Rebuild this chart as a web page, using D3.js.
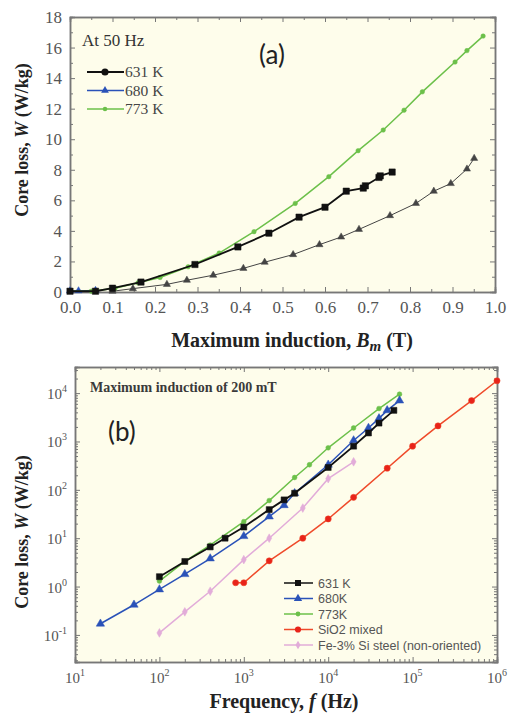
<!DOCTYPE html>
<html lang="en">
<head>
<meta charset="UTF-8">
<script src="https://d3js.org/d3.v7.min.js"></script>
<title>Core loss</title>
<style>body{margin:0;background:#fff}</style>
</head>
<body>
<script>
// ---- panel (a): core loss vs maximum induction at 50 Hz ----
var bA631 = [0.0, 0.06, 0.1, 0.167, 0.294, 0.395, 0.468, 0.539, 0.6, 0.65, 0.69, 0.695, 0.727, 0.73, 0.758];
var wA631 = [0.05, 0.05, 0.25, 0.65, 1.8, 2.95, 3.85, 4.9, 5.55, 6.6, 6.8, 6.95, 7.5, 7.6, 7.85];
var bA680 = [0.0, 0.02, 0.06];
var wA680 = [0.08, 0.08, 0.1];
var bAtri = [0.1, 0.148, 0.228, 0.275, 0.337, 0.408, 0.458, 0.525, 0.587, 0.638, 0.68, 0.753, 0.814, 0.856, 0.896, 0.934, 0.951];
var wAtri = [0.05, 0.22, 0.5, 0.77, 1.1, 1.55, 1.95, 2.45, 3.1, 3.6, 4.1, 5.0, 5.8, 6.6, 7.1, 8.05, 8.75];
var bA773 = [0.0, 0.05, 0.106, 0.16, 0.212, 0.278, 0.351, 0.433, 0.53, 0.609, 0.678, 0.737, 0.786, 0.829, 0.906, 0.934, 0.972];
var wA773 = [0.05, 0.05, 0.25, 0.6, 0.95, 1.65, 2.55, 3.95, 5.8, 7.55, 9.25, 10.6, 11.9, 13.1, 15.05, 15.8, 16.75];

// ---- panel (b): core loss vs frequency at 200 mT ----
var f631 = [100, 200, 400, 600, 1000, 2000, 3000, 4000, 10000, 20000, 30000, 40000, 60000];
var w631 = [1.6, 3.3, 6.6, 10, 17, 39, 62, 85, 290, 800, 1500, 2400, 4400];
var f680 = [20, 50, 100, 200, 400, 1000, 2000, 3000, 4000, 10000, 20000, 30000, 40000, 50000, 70000];
var w680 = [0.17, 0.42, 0.87, 1.8, 3.8, 11, 28, 48, 85, 330, 1050, 1900, 3000, 4400, 7000];
var f773 = [100, 200, 400, 1000, 2000, 4000, 6000, 10000, 20000, 40000, 70000];
var w773 = [1.3, 3.3, 7.2, 22, 60, 180, 330, 740, 1900, 4800, 9500];
var fSiO2 = [800, 1000, 2000, 5000, 10000, 20000, 50000, 100000, 200000, 500000, 1000000];
var wSiO2 = [1.2, 1.2, 3.4, 10, 25, 70, 280, 800, 2100, 7000, 18000];
var fFeSi = [100, 200, 400, 1000, 2000, 5000, 10000, 20000];
var wFeSi = [0.11, 0.3, 0.8, 3.6, 10, 42, 170, 380];

var legendA = ["631 K", "680 K", "773 K"];
var legendB = ["631 K", "680K", "773K", "SiO2 mixed", "Fe-3% Si steel (non-oriented)"];
var xTicksA = d3.range(0, 1.0001, 0.1);
var yTicksA = d3.range(0, 18.001, 2);
var decadesX = [1, 2, 3, 4, 5, 6];
var decadesY = [-1, 0, 1, 2, 3, 4];

var serif = "'Liberation Serif', 'Times New Roman', serif";
var sans = "'Liberation Sans', Arial, sans-serif";
var cBlack = "#111", cBlue = "#2a52b8", cGreen = "#6cc04a", cRed = "#ef4a2a", cPink = "#e2acd9", cGray = "#444";
var tickCol = "#777", labCol = "#555", bg = "#fefdeb";

function zip(a, b) { return a.map(function (v, i) { return [v, b[i]]; }); }

var svg = d3.select("body").append("svg").attr("width", 512).attr("height", 713);

// ================= panel (a) =================
var ga = { left: 70, right: 495, top: 17, bottom: 292 };
var xA = d3.scaleLinear().domain([0, 1]).range([ga.left, ga.right]);
var yA = d3.scaleLinear().domain([0, 18]).range([ga.bottom, ga.top]);

svg.append("rect").attr("x", ga.left).attr("y", ga.top)
  .attr("width", ga.right - ga.left).attr("height", ga.bottom - ga.top)
  .attr("fill", bg);

function styleAxis(g) {
  g.selectAll("path").attr("stroke", tickCol).attr("stroke-width", 1.5);
  g.selectAll("line").attr("stroke", tickCol);
}

// minor ticks
[[d3.axisBottom(xA), "translate(0," + ga.bottom + ")", d3.range(0.05, 1, 0.1)],
 [d3.axisTop(xA), "translate(0," + ga.top + ")", d3.range(0.05, 1, 0.1)]].forEach(function (a) {
  svg.append("g").attr("transform", a[1]).call(a[0].tickValues(a[2]).tickSize(-3).tickFormat("")).call(styleAxis);
});
[[d3.axisLeft(yA), "translate(" + ga.left + ",0)"], [d3.axisRight(yA), "translate(" + ga.right + ",0)"]].forEach(function (a) {
  svg.append("g").attr("transform", a[1]).call(a[0].tickValues(d3.range(1, 18, 2)).tickSize(-3).tickFormat("")).call(styleAxis);
});
// major ticks
svg.append("g").attr("transform", "translate(0," + ga.bottom + ")")
  .call(d3.axisBottom(xA).tickValues(xTicksA).tickSize(-5).tickPadding(9).tickFormat(d3.format(".1f")))
  .call(styleAxis)
  .selectAll("text").attr("font-family", serif).attr("font-size", 17).attr("fill", labCol);
svg.append("g").attr("transform", "translate(0," + ga.top + ")")
  .call(d3.axisTop(xA).tickValues(xTicksA).tickSize(-5).tickFormat("")).call(styleAxis);
svg.append("g").attr("transform", "translate(" + ga.left + ",0)")
  .call(d3.axisLeft(yA).tickValues(yTicksA).tickSize(-5).tickPadding(8).tickFormat(d3.format("d")))
  .call(styleAxis)
  .selectAll("text").attr("font-family", serif).attr("font-size", 17).attr("fill", labCol);
svg.append("g").attr("transform", "translate(" + ga.right + ",0)")
  .call(d3.axisRight(yA).tickValues(yTicksA).tickSize(-5).tickFormat("")).call(styleAxis);

var lineA = d3.line().x(function (d) { return xA(d[0]); }).y(function (d) { return yA(d[1]); });

function series(g, pts, line, color, width, sym, size, fill) {
  g.append("path").datum(pts).attr("d", line).attr("fill", "none")
    .attr("stroke", color).attr("stroke-width", width);
  g.selectAll(null).data(pts).enter().append("path")
    .attr("d", d3.symbol().type(sym).size(size))
    .attr("transform", function (d) { return "translate(" + line.x()(d) + "," + line.y()(d) + ")"; })
    .attr("fill", fill || color).attr("stroke", color).attr("stroke-width", 0.5);
}

var pa = svg.append("g");
series(pa, zip(bAtri, wAtri), lineA, cGray, 1, d3.symbolTriangle, 22);
series(pa, zip(bA680, wA680), lineA, cBlue, 1.2, d3.symbolTriangle, 22);
series(pa, zip(bA773, wA773), lineA, cGreen, 1.5, d3.symbolCircle, 16);
series(pa, zip(bA631, wA631), lineA, cBlack, 1.8, d3.symbolSquare, 40);

svg.append("text").attr("x", 82).attr("y", 46).attr("font-family", serif).attr("font-size", 17)
  .attr("fill", "#333").text("At 50 Hz");
svg.append("text").attr("x", 259).attr("y", 64).attr("font-family", "Lato, 'Open Sans', sans-serif")
  .attr("font-size", 26).attr("fill", "#222").text("(a)");

var legA = [[cBlack, d3.symbolCircle, 40, 2], [cBlue, d3.symbolTriangle, 26, 1.5], [cGreen, d3.symbolCircle, 16, 1.5]];
legendA.forEach(function (name, i) {
  var y = 72 + i * 18.5;
  svg.append("line").attr("x1", 87).attr("x2", 124).attr("y1", y).attr("y2", y)
    .attr("stroke", legA[i][0]).attr("stroke-width", legA[i][3]);
  svg.append("path").attr("d", d3.symbol().type(legA[i][1]).size(legA[i][2]))
    .attr("transform", "translate(105," + y + ")").attr("fill", legA[i][0]);
  svg.append("text").attr("x", 125).attr("y", y + 5).attr("font-family", serif).attr("font-size", 15.5)
    .attr("fill", "#444").text(name);
});

var tA = svg.append("text").attr("x", 292).attr("y", 347).attr("text-anchor", "middle")
  .attr("font-family", serif).attr("font-size", 20).attr("font-weight", "bold").attr("fill", "#222");
tA.append("tspan").text("Maximum induction, ");
tA.append("tspan").attr("font-style", "italic").text("B");
tA.append("tspan").attr("font-style", "italic").attr("font-size", 15).attr("dy", 4).text("m");
tA.append("tspan").attr("dy", -4).text(" (T)");

function yTitle(cx, cy) {
  var t = svg.append("text").attr("transform", "translate(" + cx + "," + cy + ") rotate(-90)")
    .attr("text-anchor", "middle").attr("font-family", serif).attr("font-size", 18)
    .attr("font-weight", "bold").attr("fill", "#222");
  t.append("tspan").text("Core loss, ");
  t.append("tspan").attr("font-style", "italic").text("W");
  t.append("tspan").text(" (W/kg)");
}
yTitle(28, 140);

// ================= panel (b) =================
var gb = { left: 75, right: 497, top: 367, bottom: 662 };
var xB = d3.scaleLog().domain([10, 1e6]).range([gb.left, gb.right]);
var yB = d3.scaleLog().domain([Math.pow(10, -1.56), Math.pow(10, 4.54)]).range([gb.bottom, gb.top]);

svg.append("rect").attr("x", gb.left).attr("y", gb.top)
  .attr("width", gb.right - gb.left).attr("height", gb.bottom - gb.top)
  .attr("fill", bg);

function minors(decs) {
  var out = [];
  decs.forEach(function (e) { for (var k = 2; k <= 9; k++) out.push(k * Math.pow(10, e)); });
  return out;
}
var mx = minors([1, 2, 3, 4, 5]);
var my = minors([-2, -1, 0, 1, 2, 3, 4]).filter(function (v) { return v >= yB.domain()[0] && v <= yB.domain()[1]; });
var majX = decadesX.map(function (e) { return Math.pow(10, e); });
var majY = decadesY.map(function (e) { return Math.pow(10, e); });

[[d3.axisBottom(xB), "translate(0," + gb.bottom + ")", mx, majX],
 [d3.axisTop(xB), "translate(0," + gb.top + ")", mx, majX],
 [d3.axisLeft(yB), "translate(" + gb.left + ",0)", my, majY],
 [d3.axisRight(yB), "translate(" + gb.right + ",0)", my, majY]].forEach(function (a) {
  svg.append("g").attr("transform", a[1]).call(a[0].tickValues(a[2]).tickSize(-3).tickFormat("")).call(styleAxis);
  svg.append("g").attr("transform", a[1]).call(a[0].tickValues(a[3]).tickSize(-5).tickFormat("")).call(styleAxis);
});

decadesX.forEach(function (e) {
  var t = svg.append("text").attr("x", xB(Math.pow(10, e))).attr("y", 683).attr("text-anchor", "middle")
    .attr("font-family", serif).attr("font-size", 15).attr("fill", labCol);
  t.append("tspan").text("10");
  t.append("tspan").attr("font-size", 10).attr("dy", -7).text(e);
});
decadesY.forEach(function (e) {
  var t = svg.append("text").attr("x", 67).attr("y", yB(Math.pow(10, e)) + 6).attr("text-anchor", "end")
    .attr("font-family", serif).attr("font-size", 15).attr("fill", labCol);
  t.append("tspan").text("10");
  t.append("tspan").attr("font-size", 10).attr("dy", -7).text(e);
});

var lineB = d3.line().x(function (d) { return xB(d[0]); }).y(function (d) { return yB(d[1]); });
var pb = svg.append("g");
series(pb, zip(fFeSi, wFeSi), lineB, cPink, 1.5, d3.symbolDiamond, 22);
series(pb, zip(fSiO2, wSiO2), lineB, cRed, 1.5, d3.symbolCircle, 30, "#e8231a");
series(pb, zip(f773, w773), lineB, cGreen, 1.5, d3.symbolCircle, 18);
series(pb, zip(f680, w680), lineB, cBlue, 1.5, d3.symbolTriangle, 30);
series(pb, zip(f631, w631), lineB, cBlack, 1.8, d3.symbolSquare, 36);

svg.append("text").attr("x", 90).attr("y", 392).attr("font-family", serif).attr("font-size", 14)
  .attr("font-weight", "bold").attr("fill", "#3a3a3a").text("Maximum induction of 200 mT");
svg.append("text").attr("x", 108).attr("y", 441).attr("font-family", "Lato, 'Open Sans', sans-serif")
  .attr("font-size", 26).attr("fill", "#222").text("(b)");

var legB = [[cBlack, d3.symbolSquare, 36, "#111"], [cBlue, d3.symbolTriangle, 30, cBlue],
  [cGreen, d3.symbolCircle, 18, cGreen], [cRed, d3.symbolCircle, 30, "#e8231a"], [cPink, d3.symbolDiamond, 22, cPink]];
legendB.forEach(function (name, i) {
  var y = 583 + i * 15.5;
  svg.append("line").attr("x1", 284).attr("x2", 313).attr("y1", y).attr("y2", y)
    .attr("stroke", legB[i][0]).attr("stroke-width", 1.5);
  svg.append("path").attr("d", d3.symbol().type(legB[i][1]).size(legB[i][2]))
    .attr("transform", "translate(298," + y + ")").attr("fill", legB[i][3]);
  svg.append("text").attr("x", 318).attr("y", y + 4.5).attr("font-family", sans).attr("font-size", 12.5)
    .attr("fill", "#555").text(name);
});

var tB = svg.append("text").attr("x", 284).attr("y", 708).attr("text-anchor", "middle")
  .attr("font-family", serif).attr("font-size", 20).attr("font-weight", "bold").attr("fill", "#222");
tB.append("tspan").text("Frequency, ");
tB.append("tspan").attr("font-style", "italic").text("f");
tB.append("tspan").text(" (Hz)");

yTitle(28, 532);
</script>
</body>
</html>
